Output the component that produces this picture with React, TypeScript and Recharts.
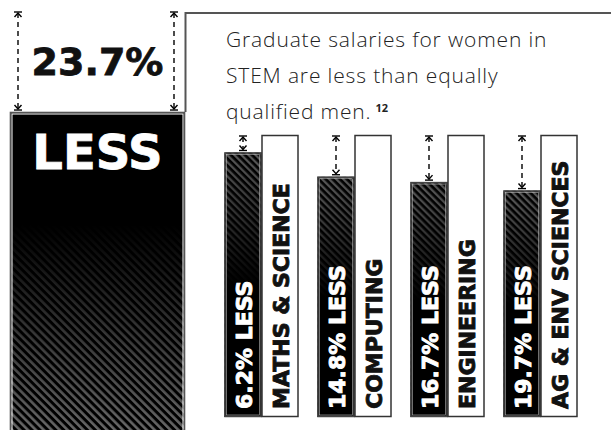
import React from 'react';
import { BarChart, Bar, XAxis, YAxis } from 'recharts';

// overall STEM gap
const overallCategory = ['ALL STEM'];
const overallLess = [23.7];
const overallWord = ['LESS'];

// by field
const categories = ['MATHS & SCIENCE', 'COMPUTING', 'ENGINEERING', 'AG & ENV SCIENCES'];
const lessPct = [6.2, 14.8, 16.7, 19.7];
const menIndex = [100, 100, 100, 100];

const bigData = overallCategory.map((c, i) => ({
  category: c,
  less: overallLess[i],
  word: overallWord[i],
  women: 100 - overallLess[i],
}));

const fieldData = categories.map((c, i) => ({
  category: c,
  less: lessPct[i],
  women: menIndex[i] - lessPct[i],
  men: menIndex[i],
}));

const BOLD = '"DejaVu Sans", Verdana, sans-serif';

function DimArrow({ x, y1, y2 }: { x: number; y1: number; y2: number }) {
  return (
    <g stroke="#000" strokeWidth={1.4} fill="none">
      <line x1={x - 4} x2={x + 4} y1={y1} y2={y1} />
      <polyline points={`${x - 3.5},${y1 + 5} ${x},${y1 + 1} ${x + 3.5},${y1 + 5}`} />
      <line x1={x} x2={x} y1={y1 + 1} y2={y2 - 1} strokeDasharray="5 4" />
      <polyline points={`${x - 3.5},${y2 - 5} ${x},${y2 - 1} ${x + 3.5},${y2 - 5}`} />
      <line x1={x - 4} x2={x + 4} y1={y2} y2={y2} />
    </g>
  );
}

function BigBar(props: any) {
  const { x, y, width, height, payload } = props;
  const base = y + height;
  const top100 = base - (height * 100) / payload.women;
  const cx = x + width / 2;
  return (
    <g>
      <rect x={x} y={y} width={width} height={height + 20} fill="url(#hatchBig)" />
      <rect x={x} y={y} width={width} height={height + 20} fill="url(#fadeBig)" />
      <rect x={x + 0.5} y={y + 0.5} width={width - 1} height={height + 20} fill="none" stroke="#555" strokeWidth={1.6} />
      <rect x={x + 2} y={y + 2} width={width - 4} height={height + 20} fill="none" stroke="#fff" strokeWidth={1} />
      <DimArrow x={x + 8} y1={top100} y2={y - 2} />
      <DimArrow x={x + width - 11} y1={top100} y2={y - 2} />
      <text x={cx} y={y - 37} textAnchor="middle" fontFamily={BOLD} fontWeight="bold" fontSize={38} fill="#111" stroke="#111" strokeWidth={0.8}>
        {`${payload.less}%`}
      </text>
      <text x={cx} y={y + 57} textAnchor="middle" fontFamily={BOLD} fontWeight="bold" fontSize={48} fill="#fff" stroke="#fff" strokeWidth={0.8}>
        {payload.word}
      </text>
    </g>
  );
}

function WomenBar(props: any) {
  const { x, y, width, height, payload } = props;
  const base = y + height;
  const top100 = base - (height * 100) / payload.women;
  const cx = x + width / 2;
  return (
    <g>
      <rect x={x} y={y} width={width} height={height} fill="url(#hatchSmall)" />
      <rect x={x} y={y} width={width} height={height} fill="url(#fadeSmall)" />
      <rect x={x + 0.5} y={y + 0.5} width={width - 1} height={height - 1} fill="none" stroke="#444" strokeWidth={1.5} />
      <rect x={x + 2} y={y + 2} width={width - 4} height={height - 4} fill="none" stroke="#bbb" strokeWidth={0.6} />
      <DimArrow x={cx} y1={top100 + 1} y2={y - 2} />
      <text
        transform={`translate(${cx + 8.5},${base - 8}) rotate(-90)`}
        fontFamily={BOLD}
        fontWeight="bold"
        fontSize={22}
        fill="#fff"
        stroke="#fff"
        strokeWidth={0.9}
      >
        {`${payload.less}% LESS`}
      </text>
    </g>
  );
}

function MenBar(props: any) {
  const { x, y, width, height, payload } = props;
  const base = y + height;
  const cx = x + width / 2;
  return (
    <g>
      <rect x={x + 0.5} y={y + 0.5} width={width - 1} height={height - 1} fill="#fff" stroke="#333" strokeWidth={1.5} />
      <text
        transform={`translate(${cx + 8.5},${base - 8}) rotate(-90)`}
        fontFamily={BOLD}
        fontWeight="bold"
        fontSize={22}
        fill="#111"
        stroke="#111"
        strokeWidth={0.9}
      >
        {payload.category}
      </text>
    </g>
  );
}

export default function App() {
  return (
    <div style={{ position: 'fixed', left: 0, top: 0, width: 611, height: 430, overflow: 'hidden', background: '#fff' }}>
      <svg width={611} height={430} style={{ position: 'absolute', left: 0, top: 0 }}>
        <defs>
          <pattern id="hatchBig" width="5.6" height="5.6" patternUnits="userSpaceOnUse" patternTransform="rotate(-45)">
            <rect width="5.6" height="5.6" fill="#000" />
            <rect width="2.6" height="5.6" fill="#808080" />
          </pattern>
          <pattern id="hatchSmall" width="5" height="5" patternUnits="userSpaceOnUse" patternTransform="rotate(-45)">
            <rect width="5" height="5" fill="#000" />
            <rect width="2.3" height="5" fill="#707070" />
          </pattern>
          <linearGradient id="fadeBig" x1="0" y1="0" x2="0" y2="1">
            <stop offset="0" stopColor="#000" stopOpacity={1} />
            <stop offset="0.33" stopColor="#000" stopOpacity={1} />
            <stop offset="1" stopColor="#000" stopOpacity={0.1} />
          </linearGradient>
          <linearGradient id="fadeSmall" x1="0" y1="0" x2="0" y2="1">
            <stop offset="0" stopColor="#000" stopOpacity={0.2} />
            <stop offset="0.5" stopColor="#000" stopOpacity={1} />
            <stop offset="1" stopColor="#000" stopOpacity={1} />
          </linearGradient>
        </defs>
        <line x1={185} x2={611} y1={13} y2={13} stroke="#555" strokeWidth={2} />
        <line x1={185.5} x2={185.5} y1={12} y2={112} stroke="#555" strokeWidth={2} />
        <g fontFamily='"Open Sans", Lato, sans-serif' fontWeight={300} fontSize={21} letterSpacing={0.85} fill="#222">
          <text x={226} y={47}>Graduate salaries for women in</text>
          <text x={226} y={83}>STEM are less than equally</text>
          <text x={226} y={119}>
            qualified men.
            <tspan dx={4} dy={-7} fontSize={11} fontWeight={700} letterSpacing={0}>12</tspan>
          </text>
        </g>
      </svg>

      <div style={{ position: 'absolute', left: 0, top: 0 }}>
        <BarChart width={200} height={440} data={bigData} margin={{ top: 12, right: 15, bottom: 6, left: 10 }} barCategoryGap={0}>
          <XAxis dataKey="category" hide />
          <YAxis domain={[0, 100]} hide />
          <Bar dataKey="women" shape={<BigBar />} isAnimationActive={false} />
        </BarChart>
      </div>

      <div style={{ position: 'absolute', left: 0, top: 0 }}>
        <BarChart
          width={611}
          height={430}
          data={fieldData}
          margin={{ top: 135, right: 24.5, bottom: 13, left: 214.5 }}
          barSize={37}
          barGap={0}
        >
          <XAxis dataKey="category" hide />
          <YAxis domain={[0, 100]} hide />
          <Bar dataKey="women" shape={<WomenBar />} isAnimationActive={false} />
          <Bar dataKey="men" shape={<MenBar />} isAnimationActive={false} />
        </BarChart>
      </div>
    </div>
  );
}
